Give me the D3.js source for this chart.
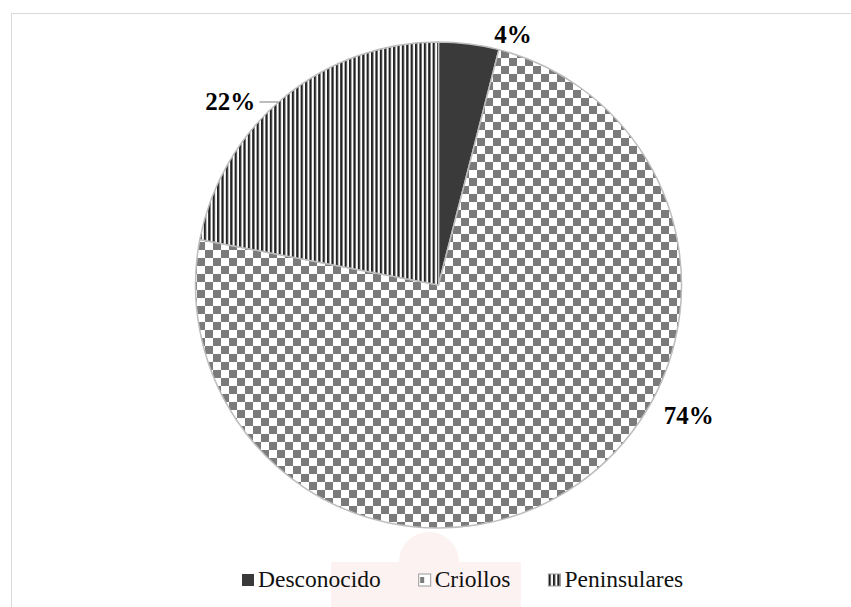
<!DOCTYPE html>
<html>
<head>
<meta charset="utf-8">
<script src="https://cdn.jsdelivr.net/npm/d3@7"></script>
<style>
  body { margin: 0; background: #fff; }
  svg { display: block; }
  .serif { font-family: "Liberation Serif", Tinos, "Times New Roman", Times, "Nimbus Roman", "FreeSerif", "Noto Serif", "DejaVu Serif", "Noto Serif CJK SC", serif; }
</style>
</head>
<body>
<svg id="chart"></svg>
<script>
// data
const categories = ["Desconocido", "Criollos", "Peninsulares"];
const values = [4, 74, 22];
const labels = ["4%", "74%", "22%"];

const width = 851, height = 607;
const cx = 438.5, cy = 285, radius = 243;

// where Excel put the data labels (angle in degrees from 12 o'clock, distance from centre)
const labelAngle = [16.5, 117.5, 311.5];
const labelDist = [262, 282, 278];

var svg = d3.select("#chart").attr("width", width).attr("height", height);
var defs = svg.append("defs");

// fills
var checker = defs.append("pattern").attr("id", "checker")
    .attr("patternUnits", "userSpaceOnUse").attr("width", 16).attr("height", 16)
    .attr("x", cx).attr("y", cy);
checker.append("rect").attr("width", 16).attr("height", 16).attr("fill", "#fff");
checker.append("rect").attr("width", 8).attr("height", 8).attr("fill", "#7b7b7b");
checker.append("rect").attr("x", 8).attr("y", 8).attr("width", 8).attr("height", 8).attr("fill", "#7b7b7b");

var stripes = defs.append("pattern").attr("id", "stripes")
    .attr("patternUnits", "userSpaceOnUse").attr("width", 4.4).attr("height", 10)
    .attr("x", cx);
stripes.append("rect").attr("width", 4.4).attr("height", 10).attr("fill", "#fff");
stripes.append("rect").attr("width", 2.3).attr("height", 10).attr("fill", "#222");

var fills = ["#3a3a3a", "url(#checker)", "url(#stripes)"];

// faint watermark behind the chart
var wm = svg.append("g").attr("fill", "#fcf2f2");
wm.append("rect").attr("x", 331).attr("y", 562).attr("width", 190).attr("height", 50);
wm.append("path").attr("d", d3.arc()({innerRadius: 0, outerRadius: 30, startAngle: -Math.PI / 2, endAngle: Math.PI / 2}))
    .attr("transform", "translate(429,562)");

// chart area border
svg.append("rect").attr("x", 11.5).attr("y", 13.5).attr("width", 860).attr("height", 620)
    .attr("fill", "none").attr("stroke", "#d9d9d9").attr("stroke-width", 1);

var pie = d3.pie().sort(null).value(function(d) { return d; });
var arc = d3.arc().innerRadius(0).outerRadius(radius);
var arcs = pie(values);

var g = svg.append("g").attr("transform", "translate(" + cx + "," + cy + ")");
g.selectAll("path.slice").data(arcs).enter().append("path")
    .attr("class", "slice")
    .attr("d", arc)
    .attr("fill", function(d, i) { return fills[i]; })
    .attr("stroke", "#bdbdbd")
    .attr("stroke-width", 1.5)
    .attr("stroke-linejoin", "round");

// labels
g.selectAll("text.lbl").data(arcs).enter().append("text")
    .attr("class", "lbl serif")
    .attr("x", function(d, i) { return labelDist[i] * Math.sin(labelAngle[i] * Math.PI / 180); })
    .attr("y", function(d, i) { return -labelDist[i] * Math.cos(labelAngle[i] * Math.PI / 180); })
    .attr("dy", "0.35em")
    .attr("text-anchor", "middle")
    .style("font-weight", "bold")
    .style("font-size", "25px")
    .text(function(d, i) { return labels[i]; });

// leader line for the 22% label
var edgeY = -183;
var edgeX = -Math.sqrt(radius * radius - edgeY * edgeY);
g.append("line")
    .attr("x1", -179).attr("y1", edgeY)
    .attr("x2", edgeX).attr("y2", edgeY)
    .attr("stroke", "#a6a6a6").attr("stroke-width", 1.5);

// legend
var legend = svg.append("g");
var lx = 242;
categories.forEach(function(c, i) {
    legend.append("rect")
        .attr("x", lx).attr("y", 574).attr("width", 12).attr("height", 12)
        .attr("fill", fills[i] == "url(#checker)" ? "#fff" : fills[i])
        .attr("stroke", i == 0 ? "none" : "#9a9a9a").attr("stroke-width", 1);
    if (i == 1) {
        legend.append("rect").attr("x", lx + 1.5).attr("y", 577).attr("width", 4).attr("height", 6).attr("fill", "#7b7b7b");
    }
    var t = legend.append("text")
        .attr("class", "serif")
        .attr("x", lx + 16).attr("y", 587)
        .style("font-size", "23.5px")
        .attr("fill", "#111")
        .text(c);
    lx += 16 + t.node().getComputedTextLength() + 38;
});
</script>
</body>
</html>
